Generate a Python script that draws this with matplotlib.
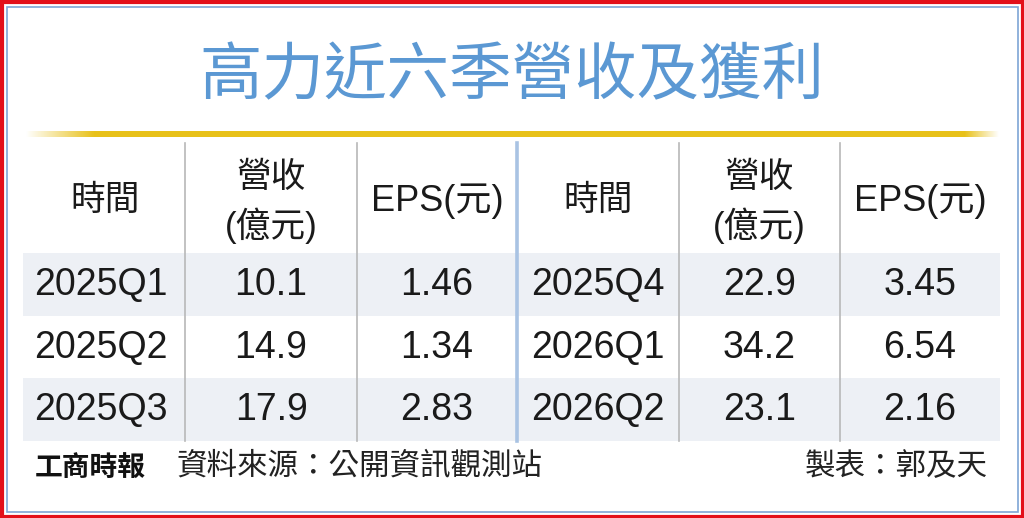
import numpy as np
import matplotlib.pyplot as plt
from matplotlib.patches import Rectangle

# 資料
title = '高力近六季營收及獲利'
headers = ['時間', '營收\n(億元)', 'EPS(元)']
periods = ['2025Q1', '2025Q2', '2025Q3', '2025Q4', '2026Q1', '2026Q2']
revenue = [10.1, 14.9, 17.9, 22.9, 34.2, 23.1]
eps = [1.46, 1.34, 2.83, 3.45, 6.54, 2.16]
source = '資料來源：公開資訊觀測站'
author = '製表：郭及天'
logo = '工商時報'

CJK = 'Noto Sans CJK TC'
NUM = ['Liberation Sans', CJK]
MIX = ['Liberation Sans', CJK]
TXT = '#1a1a1a'

fig = plt.figure(figsize=(10.24, 5.18), dpi=100)
ax = fig.add_axes([0, 0, 1, 1])
ax.set_xlim(0, 1024)
ax.set_ylim(518, 0)
ax.axis('off')

# frames
ax.add_patch(Rectangle((1.5, 1.5), 1021, 515, fill=False, ec='#e3101a', lw=3))
ax.add_patch(Rectangle((6.5, 6.5), 1011, 505, fill=False, ec='#7ea6d6', lw=1.2))

# title
ax.text(512, 76, title, ha='center', va='center', fontsize=45,
        family=CJK, color='#5b98d3', weight='medium')

# gold rule with faded ends
xs = np.linspace(0, 1, 400)
alpha = np.clip(np.minimum(xs / 0.07, (1 - xs) / 0.035), 0, 1)
grad = np.zeros((1, 400, 4))
grad[..., 0] = 0.91
grad[..., 1] = 0.76
grad[..., 2] = 0.10
grad[..., 3] = alpha
ax.imshow(grad, extent=[25, 1000, 137, 131], aspect='auto', interpolation='bilinear', zorder=2)

# table geometry
left, right = 23, 1000
col_edges = [left, 185, 357, 517, 679, 840, right]
head_top, head_bot = 143, 253
row_h = 62.5
n_rows = 3

for r in range(n_rows):
    y0 = head_bot + r * row_h
    if r % 2 == 0:
        ax.add_patch(Rectangle((left, y0), right - left, row_h, fc='#edf0f5', ec='none', zorder=1))

table_bot = head_bot + n_rows * row_h
for i, x in enumerate(col_edges[1:-1], start=1):
    if i == 3:
        ax.plot([x, x], [head_top, table_bot], color='#a9c3e3', lw=2.6, zorder=3)
    else:
        ax.plot([x, x], [head_top, table_bot], color='#b8b8b8', lw=1.2, zorder=3)

centers = [(col_edges[i] + col_edges[i + 1]) / 2 for i in range(6)]
centers[0] -= 3

# headers
for half in range(2):
    for j, h in enumerate(headers):
        cx = centers[half * 3 + j]
        if j == 0:
            ax.text(cx + (4 if half == 0 else 0), 200, h, ha='center', va='center',
                    fontsize=25, family=CJK, color=TXT)
        elif j == 1:
            top, bot = h.split('\n')
            ax.text(cx, 177, top, ha='center', va='center', fontsize=25, family=CJK, color=TXT)
            ax.text(cx, 226, bot, ha='center', va='center', fontsize=25, family=MIX, color=TXT)
        else:
            ax.text(cx, 201, h, ha='center', va='center', fontsize=26, family=MIX, color=TXT)

# body
for k in range(len(periods)):
    half, r = divmod(k, 3)
    cy = head_bot + r * row_h + row_h / 2 + 1
    vals = [periods[k], f'{revenue[k]:.1f}', f'{eps[k]:.2f}']
    for j, v in enumerate(vals):
        ax.text(centers[half * 3 + j], cy, v, ha='center', va='center',
                fontsize=27, family=NUM, color=TXT)

# footer
ax.text(35, 469, logo, ha='left', va='center', fontsize=20, family=CJK,
        weight='black', color='#111111')
ax.text(176, 467, source, ha='left', va='center', fontsize=22, family=CJK, color='#222222')
ax.text(988, 467, author, ha='right', va='center', fontsize=22, family=CJK, color='#222222')

fig.savefig('out.png', dpi=100)
